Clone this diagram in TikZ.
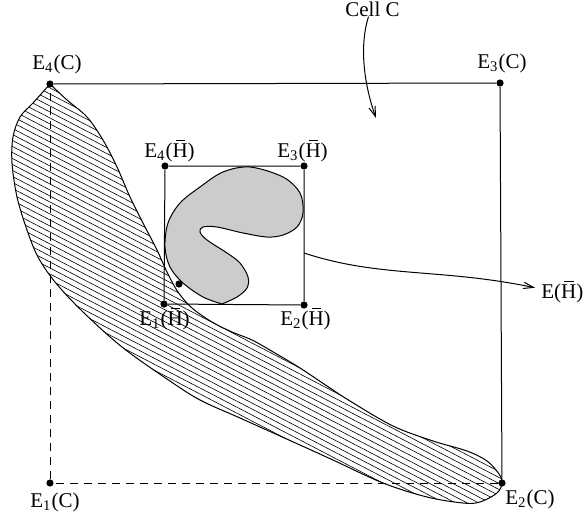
\documentclass[tikz,border=0pt]{standalone}
\usepackage{fontspec}
\setmainfont{Liberation Serif}
\usetikzlibrary{arrows.meta}
\newcommand{\barH}{\makebox[0pt][l]{\hspace{0.14em}\rule[0.76em]{0.45em}{0.05em}}H}

\begin{document}
\begin{tikzpicture}[
            x=0.5pt, y=-0.5pt,
            lbl/.style={inner sep=0pt, anchor=base west, font=\fontsize{10.5}{12}\selectfont},
            dot/.style={circle, fill=black, inner sep=0pt, minimum size=3.6pt},
            edge/.style={line width=0.5pt},
            hidden/.style={line width=0.5pt, dash pattern=on 4pt off 3pt},
            hatch/.style={line width=0.3pt},
            arrow/.style={line width=0.5pt, -{Straight Barb[length=5pt,width=3.2pt]}}
        ]
            \useasboundingbox (0,0) rectangle (584,520);

            % hatched region
            \draw[edge, path picture={
                \foreach \k in {-45,...,90}
                    \draw[hatch] (-50,6*\k) -- ++(700,364);
            }] plot[smooth, tension=0.55] coordinates {
                (50,84) (67,100) (87,117) (103,140) (117,167) (130,197) (143,223)
                (157,250) (167,272) (178,292) (192,308) (212,322) (232,332) (252,340)
                (275,353) (300,368) (327,386) (350,401) (393,426) (433,441) (467,451)
                (487,461) (499,474) (502,483) (497,493) (480,502) (463,503) (427,497)
                (383,483) (333,460) (300,445) (240,418) (200,400) (167,379) (122,347)
                (82,311) (55,282) (38,257) (27,230) (17,197) (12,163) (13,137)
                (20,117) (33,103) (50,84)};

            % cell corners
            \node[dot] (e1c) at (50,483) {};
            \node[dot] (e2c) at (502,483) {};
            \node[dot] (e3c) at (500,83) {};
            \node[dot] (e4c) at (50,84) {};

            \draw[edge] (e4c) -- (e3c) -- (e2c);
            \draw[hidden] (e2c) -- (e1c) -- (e4c);

            % hole box
            \node[dot] (e1h) at (164,304) {};
            \node[dot] (e2h) at (304,305) {};
            \node[dot] (e3h) at (304,166) {};
            \node[dot] (e4h) at (165,166) {};

            \draw[edge] (e4h) -- (e3h) -- (e2h) -- (e1h) -- (e4h);

            % hole
            \draw[edge, fill=black!20] plot[smooth, tension=0.55] coordinates {
                (222,304) (237,297) (247,288) (248,277) (240,263) (227,253) (207,240)
                (200,232) (203,227) (217,227) (243,233) (267,237) (283,235) (297,227)
                (303,213) (300,193) (283,177) (250,167) (223,172) (200,187) (180,203)
                (168,223) (165,247) (170,267) (183,283) (203,297) (222,304)};
            \node[dot] (touch) at (179,284) {};

            % labels
            \node[lbl] (l4c) at (32,69) {E\textsubscript{4}(C)};
            \node[lbl] (l3c) at (477,68) {E\textsubscript{3}(C)};
            \node[lbl] (l1c) at (30,507) {E\textsubscript{1}(C)};
            \node[lbl] (l2c) at (505,504) {E\textsubscript{2}(C)};
            \node[lbl] (l4h) at (144,157) {E\textsubscript{4}(\barH)};
            \node[lbl] (l3h) at (277,157) {E\textsubscript{3}(\barH)};
            \node[lbl] (l1h) at (139,325) {E\textsubscript{1}(\barH)};
            \node[lbl] (l2h) at (280,325) {E\textsubscript{2}(\barH)};
            \node[lbl] (eh) at (541,298) {E(\barH)};
            \node[lbl] (cell) at (345,16) {Cell C};

            \coordinate (cellpt) at (376,118);
            \coordinate (side) at (304,253);

            \draw[arrow] ([xshift=-2pt]cell.south) .. controls (358,50) and (366,90) .. (cellpt);
            \draw[arrow] (side) .. controls (380,278) and (440,268) .. ([shift={(-3pt,2pt)}]eh.west);

        \end{tikzpicture}
\end{document}
